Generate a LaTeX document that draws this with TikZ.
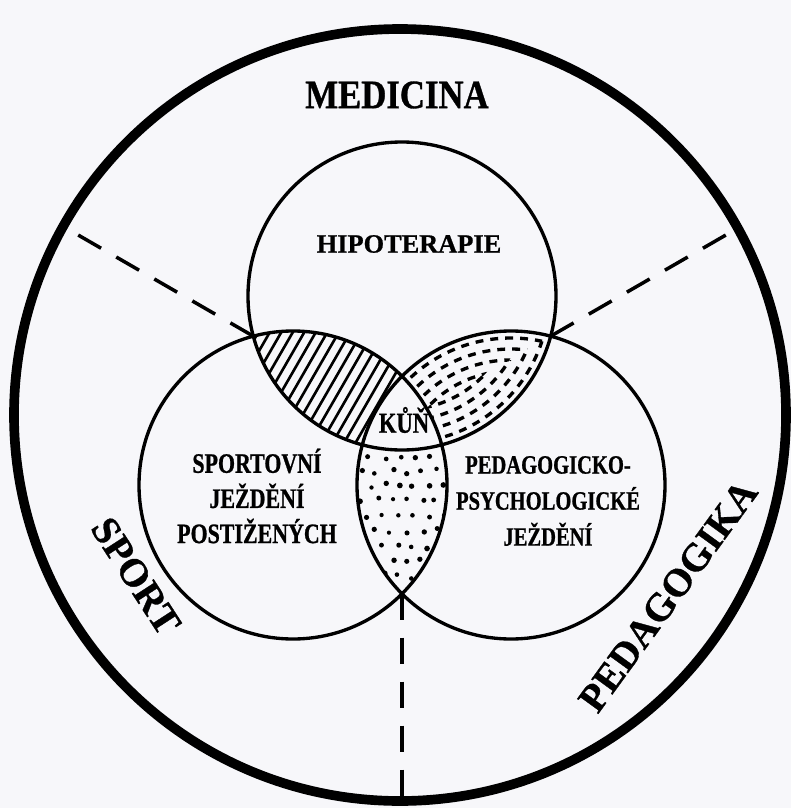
\documentclass[tikz,border=0pt]{standalone}
\usepackage{fontspec}
\setmainfont{Liberation Serif}[BoldFeatures={FakeBold=0.8}]
\newfontfamily\narrowfont{Liberation Serif}[FakeStretch=0.78, BoldFeatures={FakeBold=0.8}]
\newfontfamily\medfont{Liberation Serif}[FakeStretch=0.86, BoldFeatures={FakeBold=0.8}]
\definecolor{paper}{RGB}{247, 247, 250}

\begin{document}
\begin{tikzpicture}[x=0.02cm, y=-0.02cm,
        ring/.style={line width=1.9pt},
        border/.style={line width=2pt, dash pattern=on 15pt off 10pt},
        hatch/.style={line width=1.5pt},
        dashmark/.style={line width=1.9pt, dash pattern=on 4.5pt off 4pt},
        field/.style={font=\narrowfont\bfseries\fontsize{16}{20}\selectfont, align=center},
        domainlabel/.style={font=\bfseries\fontsize{22.5}{24}\selectfont}]
        % page
        \fill[paper] (0,0) rectangle (791,808);
        \useasboundingbox (0,0) rectangle (791,808);

        % centres of the circles
        \coordinate (T) at (402,296);
        \coordinate (L) at (293,485);
        \coordinate (R) at (511,485);
        \coordinate (O) at (400,415);
        % outer meeting points and ends of the borders
        \coordinate (tlout) at (253.2,336.1);
        \coordinate (trout) at (550.8,336.1);
        \coordinate (lrout) at (402,593.8);
        \coordinate (endl) at (75.7,233.6);
        \coordinate (endr) at (728.3,233.6);
        \coordinate (endb) at (402,801);

        % Hipoterapie and sport: hatching
        \begin{scope}[even odd rule]
            \clip (T) circle (154);
            \clip (L) circle (154);
            \clip (R) circle (154) (0,0) rectangle (791,808);
            \foreach \s in {-12,...,12}
                \draw[hatch] ({340+11.5*\s-100},563.4) -- ++(200,-346.8);
        \end{scope}

        % Hipoterapie and pedagogy: short dashes
        \begin{scope}[even odd rule]
            \clip (T) circle (154);
            \clip (R) circle (154);
            \clip (L) circle (154) (0,0) rectangle (791,808);
            \foreach \d in {7,18,29,40} {
                \begin{scope}
                    \clip (T) circle ({154-\d});
                    \draw[dashmark] (R) circle ({154-\d});
                \end{scope}
                \begin{scope}
                    \clip (R) circle ({154-\d});
                    \draw[dashmark] (T) circle ({154-\d});
                \end{scope}
            }
        \end{scope}

        % sport and pedagogy: dots
        \begin{scope}[even odd rule]
            \clip (L) circle (154);
            \clip (R) circle (154);
            \clip (T) circle (154) (0,0) rectangle (791,808);
            \pgfmathsetseed{7}
            \foreach \i in {0,...,9}
                \foreach \j in {0,...,6} {
                    \pgfmathsetmacro\px{354+15*\j+7.5*mod(\i,2)+3*rand}
                    \pgfmathsetmacro\py{456+15*\i+3*rand}
                    \fill (\px,\py) circle ({2.5+0.4*rand});
                }
        \end{scope}

        % circles
        \draw[ring] (T) circle (154) (L) circle (154) (R) circle (154);
        \draw[line width=5.5pt] (O) circle (386);

        % borders between the domains
        \draw[border] (tlout) -- (endl);
        \draw[border] (trout) -- (endr);
        \draw[border] (lrout) -- (endb);

        % labels
        \node[font=\medfont\bfseries\fontsize{23}{24}\selectfont] (medicina) at (397,95) {MEDICINA};
        \node[font=\bfseries\fontsize{15}{18}\selectfont] (hipo) at (409,244) {HIPOTERAPIE};
        \node[font=\narrowfont\bfseries\fontsize{16.5}{18}\selectfont] (kun) at (404,420) {KŮŇ};
        \node[field] (sportride) at (257,496) {SPORTOVNÍ\\JEŽDĚNÍ\\POSTIŽENÝCH};
        \node[field, font=\narrowfont\bfseries\fontsize{15}{20.5}\selectfont] (pedride) at (548,501) {PEDAGOGICKO-\\PSYCHOLOGICKÉ\\JEŽDĚNÍ};
        \node[domainlabel, rotate=-57] (sport) at (136,576) {SPORT};
        \node[domainlabel, rotate=54] (peda) at (668,596) {PEDAGOGIKA};
    \end{tikzpicture}
\end{document}
